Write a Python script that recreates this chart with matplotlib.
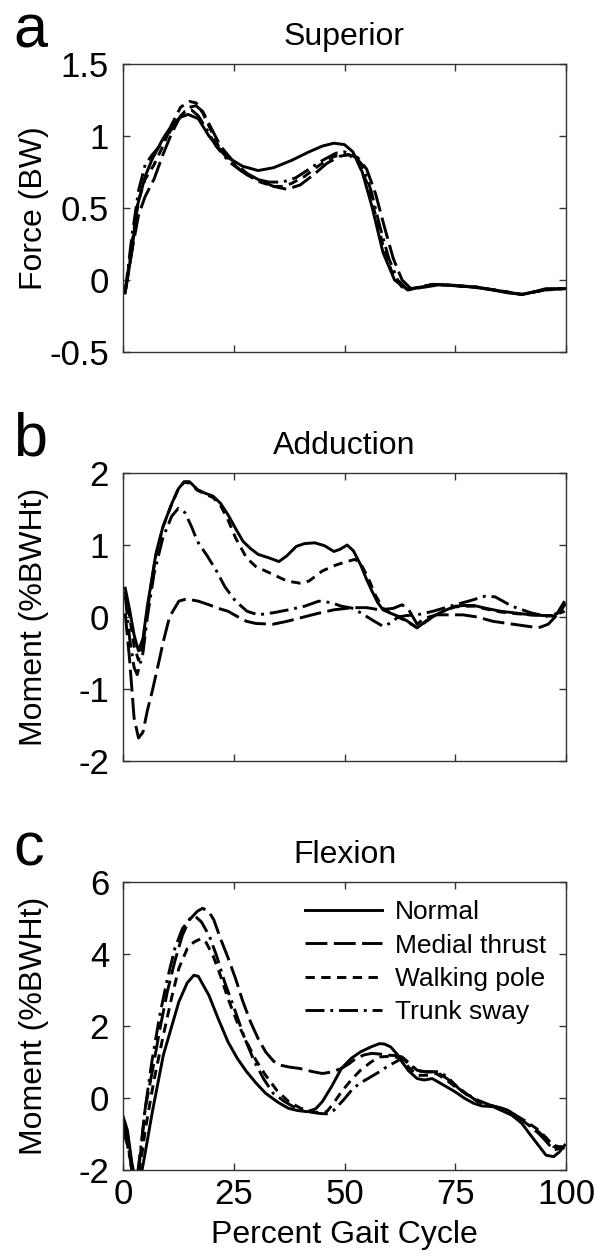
import numpy as np
import matplotlib
matplotlib.use("Agg")
import matplotlib.pyplot as plt

plt.rcParams['font.family'] = ['Liberation Sans', 'DejaVu Sans']

# Panel a: superior force (BW)
a_normal_x = [0.5, 2, 3.2, 5, 6.6, 9, 10.9, 13, 14.7, 17, 19.4, 21.5, 23.7, 27, 30.5, 34, 38, 42, 45, 47.6, 50, 51.9, 54, 56.2, 58.7, 61.3, 64.3, 67, 70.7, 75, 79.2, 83.5, 87, 90.3, 93, 95.5, 99.7]
a_normal_y = [-0.09, 0.2, 0.51, 0.72, 0.84, 0.98, 1.07, 1.13, 1.15, 1.12, 1.0, 0.92, 0.85, 0.79, 0.76, 0.78, 0.83, 0.89, 0.93, 0.95, 0.94, 0.89, 0.75, 0.51, 0.19, 0.0, -0.07, -0.05, -0.03, -0.04, -0.05, -0.07, -0.09, -0.1, -0.08, -0.06, -0.06]
a_medial_x = [0.5, 2, 3.5, 5, 7, 9, 11, 13, 15, 16.5, 18, 20, 22, 25, 28, 31, 34, 37, 40, 43, 46, 49, 51, 53, 55, 57, 59, 61, 63, 65, 68, 72, 80, 90, 95, 99.7]
a_medial_y = [-0.08, 0.2, 0.45, 0.58, 0.7, 0.87, 1.02, 1.14, 1.2, 1.21, 1.17, 1.05, 0.93, 0.82, 0.74, 0.69, 0.65, 0.63, 0.66, 0.73, 0.81, 0.86, 0.87, 0.85, 0.77, 0.6, 0.37, 0.15, 0.0, -0.06, -0.05, -0.03, -0.05, -0.1, -0.07, -0.06]
a_pole_x = [0.5, 2, 3.5, 5, 7, 9, 11, 13, 15, 16.5, 18, 20, 22, 25, 28, 31, 34, 36, 38, 41, 44, 47, 49, 51, 53, 55, 57, 59, 61, 63, 65, 70, 80, 90, 95, 99.7]
a_pole_y = [-0.08, 0.25, 0.55, 0.7, 0.8, 0.93, 1.08, 1.2, 1.24, 1.23, 1.16, 1.03, 0.9, 0.8, 0.73, 0.68, 0.65, 0.65, 0.67, 0.72, 0.79, 0.85, 0.87, 0.87, 0.82, 0.68, 0.45, 0.2, 0.03, -0.05, -0.06, -0.03, -0.05, -0.1, -0.07, -0.06]
a_sway_x = [0.5, 2, 3.5, 5, 6.6, 8, 10, 12, 14, 15.5, 17, 19, 21, 24, 27, 30, 33, 36, 39, 42, 45, 48, 50, 52, 54, 56, 58, 60, 62, 64, 66, 70, 80, 90, 95, 99.7]
a_sway_y = [-0.08, 0.3, 0.62, 0.8, 0.87, 0.92, 1.0, 1.1, 1.17, 1.18, 1.14, 1.04, 0.93, 0.82, 0.75, 0.7, 0.68, 0.68, 0.71, 0.77, 0.83, 0.88, 0.89, 0.87, 0.8, 0.62, 0.37, 0.15, 0.0, -0.06, -0.06, -0.03, -0.05, -0.1, -0.07, -0.06]

# Panel b: adduction moment (%BWHt)
b_normal_x = [0.5, 1.5, 2.5, 3.5, 4.5, 5.5, 7.4, 9, 10.9, 12.5, 13.8, 15, 16.8, 18.5, 20.3, 22, 23.7, 25.5, 27.1, 28.8, 30.5, 33, 35.2, 37, 39.1, 41, 43.3, 45.5, 47.6, 49, 50.6, 52, 53.6, 55, 56.2, 57.5, 58.7, 60.5, 62.1, 64, 66.4, 68.5, 70.7, 73, 75, 77, 79.2, 82, 85.2, 88, 92, 95, 97.2, 99, 99.7]
b_normal_y = [0.4, 0.1, -0.25, -0.47, -0.3, 0.15, 0.87, 1.25, 1.56, 1.78, 1.88, 1.88, 1.77, 1.72, 1.68, 1.58, 1.42, 1.22, 1.05, 0.95, 0.87, 0.82, 0.77, 0.85, 0.98, 1.02, 1.03, 0.99, 0.91, 0.94, 1.0, 0.92, 0.73, 0.52, 0.36, 0.2, 0.1, 0.05, 0.01, -0.05, -0.15, -0.05, 0.03, 0.1, 0.15, 0.16, 0.16, 0.12, 0.08, 0.06, 0.03, 0.02, 0.01, 0.1, 0.17]
b_medial_x = [0.5, 1.5, 2.5, 3.5, 4.5, 5.5, 6.6, 8, 9.1, 10.5, 12.6, 14.3, 17, 19.4, 21.5, 23.7, 26, 27.9, 30, 33.9, 37, 40.8, 44, 47.6, 51.9, 55, 57.9, 61, 63, 64.5, 66.4, 68, 70.7, 74, 76.7, 80, 83.5, 88, 93.8, 96, 98, 99.7]
b_medial_y = [0.05, -0.6, -1.4, -1.68, -1.6, -1.3, -1.03, -0.65, -0.34, 0.0, 0.22, 0.25, 0.22, 0.17, 0.12, 0.08, 0.0, -0.06, -0.09, -0.1, -0.06, 0.0, 0.05, 0.1, 0.13, 0.13, 0.1, 0.12, 0.17, 0.1, -0.1, -0.02, 0.03, 0.03, 0.03, 0.0, -0.06, -0.1, -0.15, -0.1, 0.03, 0.2]
b_pole_x = [0.5, 1.5, 2.5, 3.5, 4.5, 5.5, 7.4, 9, 10.9, 12.5, 13.8, 15, 16.8, 18.5, 20.3, 22, 23.7, 25.4, 27.9, 30, 33.9, 37, 39.9, 42, 45, 48, 50, 52.3, 53.5, 55.3, 57, 58.7, 60.5, 62.1, 64, 66.4, 68.5, 70.7, 73, 75, 77, 79.2, 82, 85.2, 88, 92, 95, 97.2, 99.7]
b_pole_y = [0.35, 0.0, -0.4, -0.6, -0.4, 0.1, 0.85, 1.25, 1.55, 1.78, 1.87, 1.86, 1.76, 1.71, 1.66, 1.55, 1.35, 1.1, 0.82, 0.7, 0.59, 0.5, 0.47, 0.5, 0.64, 0.72, 0.76, 0.8, 0.76, 0.55, 0.3, 0.12, 0.05, 0.0, -0.06, -0.15, -0.06, 0.03, 0.1, 0.14, 0.15, 0.15, 0.11, 0.07, 0.05, 0.03, 0.02, 0.02, 0.08]
b_sway_x = [0.5, 1.5, 2.5, 3.2, 4.5, 5.5, 7, 9, 11, 12.5, 14, 15.5, 16.8, 19, 21.1, 23, 25.4, 28, 30.5, 34, 37.4, 41, 44.2, 47, 49.3, 52, 54.4, 56.5, 58.7, 60.5, 62.1, 64, 66.4, 70, 75, 78, 81.8, 84, 87.8, 92, 95.5, 98, 99.7]
b_sway_y = [0.3, -0.3, -0.7, -0.8, -0.5, 0.0, 0.6, 1.1, 1.4, 1.51, 1.45, 1.25, 1.05, 0.85, 0.64, 0.42, 0.22, 0.08, 0.03, 0.06, 0.1, 0.15, 0.22, 0.2, 0.15, 0.12, 0.03, -0.05, -0.13, -0.08, 0.0, 0.02, 0.03, 0.08, 0.17, 0.22, 0.29, 0.28, 0.15, 0.06, 0.01, 0.05, 0.22]

# Panel c: flexion moment (%BWHt)
c_normal_x = [0, 1, 2, 3, 4, 4.9, 6.6, 9.1, 12.6, 14.5, 16, 17, 19.4, 21.5, 23.7, 25.8, 27.9, 30, 32.2, 35, 37.4, 39.5, 41.6, 43.5, 45, 47, 49.3, 51.5, 53.6, 56, 57.9, 59, 60.4, 62, 63, 64.5, 66.4, 68, 69.8, 72.5, 75, 77, 79.2, 81, 83.5, 85.5, 87.8, 90, 92, 94, 95.5, 97.2, 98.5, 99.7]
c_normal_y = [-0.5, -0.9, -1.8, -2.4, -2.2, -1.6, -0.4, 1.19, 2.67, 3.2, 3.41, 3.38, 2.85, 2.2, 1.56, 1.1, 0.73, 0.42, 0.13, -0.12, -0.29, -0.35, -0.38, -0.3, -0.1, 0.3, 0.82, 1.1, 1.28, 1.42, 1.51, 1.5, 1.42, 1.2, 1.0, 0.75, 0.54, 0.5, 0.54, 0.35, 0.17, 0.0, -0.15, -0.22, -0.24, -0.35, -0.48, -0.7, -1.03, -1.35, -1.59, -1.63, -1.5, -1.31]
c_medial_x = [0, 1, 2, 3, 4, 5, 6.6, 8.3, 10, 11.7, 13.4, 15, 16.8, 18, 19.4, 20.5, 22, 23.7, 25.4, 27, 28.8, 30.5, 32.2, 34, 35.6, 37.5, 39.9, 42.5, 45, 47, 49.3, 51, 52.6, 54.5, 56.2, 58, 59.6, 61.5, 63, 64.5, 66.4, 68.5, 70.7, 73, 75, 77.5, 80.1, 82.5, 85.2, 87, 88.6, 91, 93.8, 95.5, 97.2, 99.7]
c_medial_y = [-0.7, -1.2, -2.0, -2.5, -1.5, -0.3, 0.73, 1.9, 2.95, 3.8, 4.52, 4.95, 5.19, 5.27, 5.17, 4.95, 4.43, 3.9, 3.32, 2.7, 2.11, 1.65, 1.28, 1.02, 0.91, 0.86, 0.82, 0.74, 0.68, 0.72, 0.82, 0.95, 1.1, 1.2, 1.24, 1.22, 1.19, 1.18, 1.14, 0.98, 0.77, 0.72, 0.73, 0.55, 0.36, 0.12, -0.1, -0.2, -0.27, -0.35, -0.48, -0.7, -0.98, -1.2, -1.45, -1.35]
c_pole_x = [0, 1, 2, 3, 4, 5, 7, 9.1, 11, 12.6, 14.5, 16, 17.5, 18.5, 20.3, 22, 23.7, 25.8, 27.9, 30, 32.2, 34.8, 37.4, 40, 42.5, 44, 46, 47.5, 49.3, 51.5, 53.6, 56, 57.9, 60.5, 63, 64.5, 66.4, 68.5, 70.7, 73, 75, 77.5, 80.1, 82.5, 85.2, 87, 88.6, 91, 93.8, 95.5, 97.2, 99.7]
c_pole_y = [-0.6, -1.0, -1.9, -2.4, -1.8, -0.9, 0.5, 1.74, 2.8, 3.6, 4.15, 4.33, 4.42, 4.38, 3.96, 3.4, 2.76, 2.1, 1.56, 1.05, 0.63, 0.2, -0.1, -0.28, -0.38, -0.4, -0.38, -0.15, 0.17, 0.5, 0.77, 1.0, 1.14, 1.16, 1.1, 0.85, 0.63, 0.63, 0.68, 0.5, 0.31, 0.1, -0.1, -0.2, -0.27, -0.35, -0.48, -0.65, -0.89, -1.1, -1.35, -1.35]
c_sway_x = [0, 1, 2, 3, 4, 5, 6.5, 8.3, 10, 11.7, 13.4, 15.1, 16.3, 17.7, 19.5, 21.1, 23, 25.4, 27.5, 29.7, 31.8, 33.9, 36.5, 39.1, 41.8, 44.4, 46, 47.6, 49.8, 51.9, 53.6, 55.3, 57.5, 59.6, 61.5, 63, 64.5, 66.4, 69, 71.5, 73.5, 75.8, 78, 80.1, 82.5, 85.2, 87, 88.6, 91, 93.8, 95.5, 97.2, 99.7]
c_sway_y = [-0.9, -1.3, -2.0, -2.4, -1.4, -0.3, 1.0, 2.3, 3.3, 4.15, 4.7, 4.98, 5.05, 4.89, 4.5, 3.96, 3.2, 2.39, 1.65, 1.0, 0.52, 0.13, -0.1, -0.29, -0.38, -0.43, -0.44, -0.34, -0.05, 0.26, 0.42, 0.54, 0.7, 0.87, 1.0, 1.1, 0.95, 0.75, 0.73, 0.73, 0.55, 0.26, 0.08, -0.06, -0.18, -0.29, -0.36, -0.48, -0.68, -0.94, -1.12, -1.31, -1.4]

labels = ['Normal', 'Medial thrust', 'Walking pole', 'Trunk sway']
styles = ['-', (0, (7.5, 2.2)), (0, (3.2, 2.2)), (0, (6.5, 2.0, 1.0, 2.0))]

panels = [
    ('a', 'Superior', 'Force (BW)', (-0.5, 1.5), [-0.5, 0, 0.5, 1, 1.5], ['-0.5', '0', '0.5', '1', '1.5'],
     [(a_normal_x, a_normal_y), (a_medial_x, a_medial_y), (a_pole_x, a_pole_y), (a_sway_x, a_sway_y)]),
    ('b', 'Adduction', 'Moment (%BWHt)', (-2, 2), [-2, -1, 0, 1, 2], ['-2', '-1', '0', '1', '2'],
     [(b_normal_x, b_normal_y), (b_medial_x, b_medial_y), (b_pole_x, b_pole_y), (b_sway_x, b_sway_y)]),
    ('c', 'Flexion', 'Moment (%BWHt)', (-2, 6), [-2, 0, 2, 4, 6], ['-2', '0', '2', '4', '6'],
     [(c_normal_x, c_normal_y), (c_medial_x, c_medial_y), (c_pole_x, c_pole_y), (c_sway_x, c_sway_y)]),
]

W, H = 595, 1257
fig = plt.figure(figsize=(W / 100, H / 100), dpi=100)

left, right = 123, 566
tops = [64, 473, 882]
ax_h = 288

for i, (letter, title, ylab, ylim, yt, ytl, series) in enumerate(panels):
    top = tops[i]
    ax = fig.add_axes([left / W, 1 - (top + ax_h) / H, (right - left) / W, ax_h / H])
    for (xs, ys), ls, lab in zip(series, styles, labels):
        ax.plot(xs, ys, color='black', lw=2.1, linestyle=ls, label=lab)
    ax.set_xlim(0, 100)
    ax.set_ylim(*ylim)
    ax.set_yticks(yt)
    ax.set_yticklabels(ytl)
    ax.set_xticks([0, 25, 50, 75, 100])
    ax.tick_params(direction='in', top=True, right=True, length=5, width=1,
                   color='#333333', labelsize=25)
    ax.tick_params(axis='y', pad=10)
    ax.tick_params(axis='x', pad=6)
    for sp in ax.spines.values():
        sp.set_color('#333333')
        sp.set_linewidth(1.0)
    ax.set_title(title, fontsize=23, pad=14)
    ax.set_ylabel(ylab, fontsize=23)
    ax.yaxis.set_label_coords(-0.167, 0.5)
    if i < 2:
        ax.set_xticklabels([])
    else:
        ax.set_xlabel('Percent Gait Cycle', fontsize=23, labelpad=6)
        ax.legend(loc='upper left', bbox_to_anchor=(0.387, 0.973), frameon=False,
                  fontsize=19, handlelength=2.9, handletextpad=0.5,
                  borderaxespad=0, labelspacing=0.35)
    fig.text(13 / W, 1 - (top - 17) / H, letter, fontsize=44, ha='left', va='baseline')

fig.savefig('out.png', dpi=100)
